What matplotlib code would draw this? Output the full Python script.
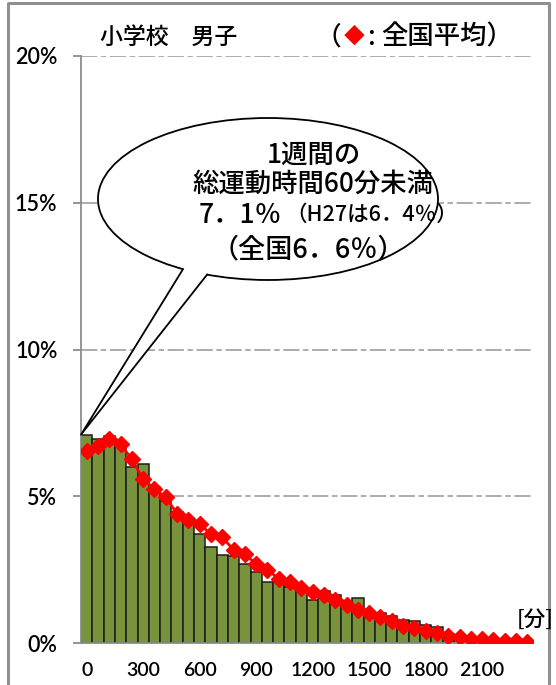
import matplotlib.pyplot as plt
import numpy as np
from matplotlib.patches import Ellipse, Polygon

plt.rcParams['font.family'] = ['Noto Sans CJK JP', 'DejaVu Sans']

# 60-minute classes of weekly exercise time
minutes = list(range(0, 2400, 60))
# share of boys (%) in each class, prefecture
school = [7.1, 6.95, 7.05, 6.86, 5.99, 6.1, 5.3, 4.85, 4.45, 4.27,
          3.71, 3.28, 3.0, 2.95, 2.68, 2.41, 2.09, 2.1, 1.9, 1.77,
          1.46, 1.78, 1.65, 1.41, 1.54, 1.06, 1.01, 0.91, 0.8, 0.75,
          0.62, 0.53, 0.3, 0.25, 0.2, 0.15, 0.1, 0.07, 0.04, 0.02]
# national average (%)
national = [6.54, 6.71, 6.94, 6.77, 6.26, 5.58, 5.24, 4.96, 4.41, 4.2,
            4.06, 3.7, 3.6, 3.18, 3.04, 2.68, 2.49, 2.19, 2.09, 1.86,
            1.75, 1.64, 1.47, 1.29, 1.12, 1.01, 0.88, 0.75, 0.58, 0.5,
            0.42, 0.33, 0.25, 0.19, 0.15, 0.12, 0.1, 0.07, 0.07, 0.02]
y_ticks = [0, 5, 10, 15, 20]

W, H = 556, 685
fig = plt.figure(figsize=(W / 100, H / 100), dpi=100)
ax = fig.add_axes([81 / W, 42 / H, 452 / W, 587 / H])

x = np.arange(len(minutes))
ax.bar(x, school, width=1.0, color='#77933c', edgecolor='#1c1c1c', linewidth=1.1, zorder=2)
ax.plot(x, national, color='#ff0000', lw=2, marker='D', ms=8, zorder=3)

ax.set_xlim(-0.5, len(minutes) - 0.5)
ax.set_ylim(0, 20)
for v in y_ticks[1:]:
    ax.axhline(v, color='#a6a6a6', lw=1.3, dashes=(9, 2, 3, 2), zorder=0)

ax.set_yticks(y_ticks)
ax.set_yticklabels(['%d%%' % v for v in y_ticks], fontfamily='Lato', fontsize=15.5,
                   fontweight='semibold')
shown = [i for i, m in enumerate(minutes) if m % 300 == 0]
ax.set_xticks(shown)
ax.set_xticklabels([str(minutes[i]) for i in shown], fontfamily='Lato', fontsize=14,
                   fontweight='semibold')
ax.tick_params(axis='y', length=6, color='#8c8c8c', width=1.3, pad=11)
ax.tick_params(axis='x', length=0, pad=14)
for s in ['top', 'right']:
    ax.spines[s].set_visible(False)
for s in ['left', 'bottom']:
    ax.spines[s].set_color('#8c8c8c')
    ax.spines[s].set_linewidth(1.3)

# overlay in pixel coordinates for frame, titles and callout
ov = fig.add_axes([0, 0, 1, 1], zorder=5)
ov.set_xlim(0, W)
ov.set_ylim(H, 0)
ov.axis('off')
ov.patch.set_alpha(0)

ov.plot([8, 8, 549, 549], [H, 3, 3, H], color='#909090', lw=2.2)

wt = 'medium'
ov.text(100, 37, '小学校　男子', fontsize=16.5, va='center', ha='left', fontweight=wt)
ov.text(341, 37, '（', fontsize=18.5, va='center', ha='right', fontweight=wt)
ov.text(354, 37, '◆', fontsize=15, va='center', ha='center', color='#ff0000')
ov.text(371, 37, ':', fontsize=18.5, va='center', ha='center', fontweight=wt)
ov.text(381, 37, '全国平均）', fontsize=19, va='center', ha='left', fontweight=wt)
ov.text(535, 620, '[分]', fontsize=15.5, va='center', ha='center', fontweight=wt)

# callout pointing at the first bar
cx, cy, a, b = 268, 199, 170, 81
tip = ov.transData.inverted().transform(ax.transData.transform((-0.5, school[0])))
ang = np.radians([120, 111])
p1 = (cx + a * np.cos(ang[0]), cy + b * np.sin(ang[0]))
p2 = (cx + a * np.cos(ang[1]), cy + b * np.sin(ang[1]))
ov.add_patch(Ellipse((cx, cy), 2 * a, 2 * b, fc='white', ec='black', lw=1.3, zorder=5))
inner1 = (p1[0] + 4, p1[1] - 8)
inner2 = (p2[0] - 2, p2[1] - 8)
ov.add_patch(Polygon([tip, p1, inner1, inner2, p2], closed=True, fc='white', ec='none', zorder=6))
ov.plot([p1[0], tip[0], p2[0]], [p1[1], tip[1], p2[1]], color='black', lw=1.3, zorder=7)

ov.text(314, 155, '1週間の', fontsize=19, ha='center', va='center', zorder=8, fontweight=wt)
ov.text(313, 184, '総運動時間60分未満', fontsize=19, ha='center', va='center', zorder=8,
        fontweight=wt)
ov.text(282, 215, '7．1％', fontsize=19, ha='right', va='center', zorder=8, fontweight=wt)
ov.text(285, 215, '（H27は6．4％）', fontsize=15.5, ha='left', va='center', zorder=8,
        fontweight=wt)
ov.text(308, 250, '（全国6．6％）', fontsize=19.5, ha='center', va='center', zorder=8,
        fontweight=wt)

fig.savefig('out.png', dpi=100)
